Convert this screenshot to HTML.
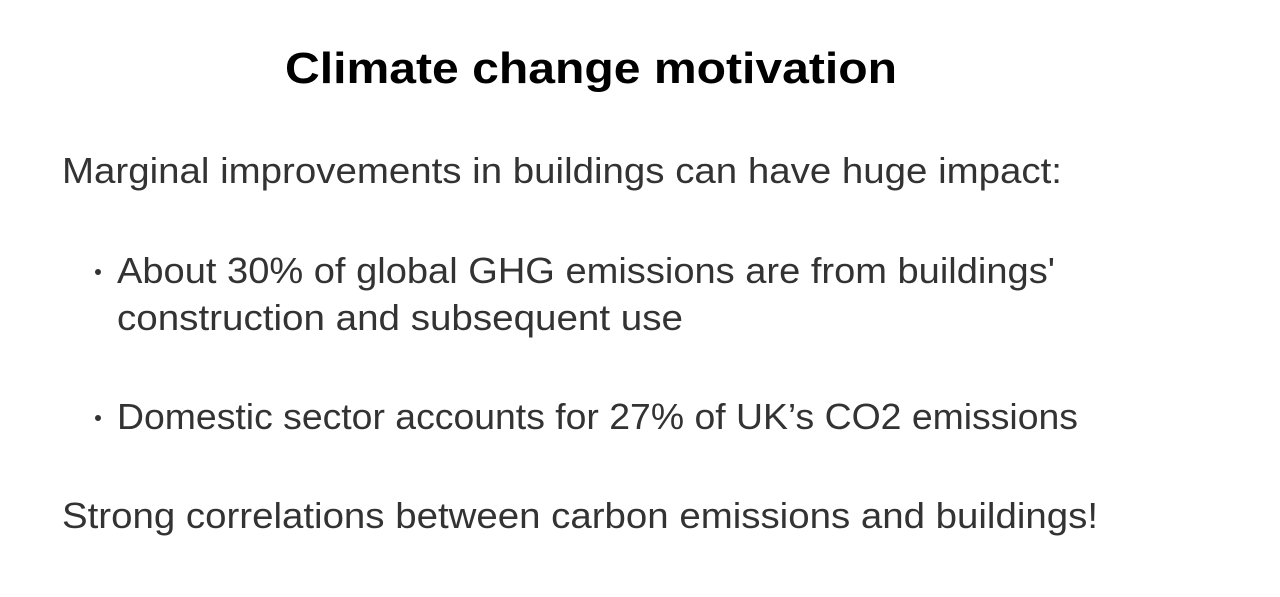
<!DOCTYPE html>
<html>
<head>
<meta charset="utf-8">
<style>
  html, body { margin: 0; padding: 0; background: #ffffff; }
  svg { display: block; }
</style>
</head>
<body>
<svg width="1280" height="597" viewBox="0 0 1280 597" xmlns="http://www.w3.org/2000/svg">
  <rect x="0" y="0" width="1280" height="597" fill="#ffffff"/>
  <text x="285" y="83" font-family="Liberation Sans, sans-serif" font-weight="bold" font-size="44" fill="#000000" textLength="612" lengthAdjust="spacingAndGlyphs">Climate change motivation</text>
  <g font-family="Liberation Sans, sans-serif" font-size="36" fill="#333333">
    <text x="62" y="183" textLength="1000" lengthAdjust="spacingAndGlyphs">Marginal improvements in buildings can have huge impact:</text>
    <circle cx="98" cy="272" r="3" fill="#333333"/>
    <text x="117" y="283" textLength="938" lengthAdjust="spacingAndGlyphs">About 30% of global GHG emissions are from buildings'</text>
    <text x="117" y="330" textLength="566" lengthAdjust="spacingAndGlyphs">construction and subsequent use</text>
    <circle cx="98" cy="418" r="3" fill="#333333"/>
    <text x="117" y="429" textLength="961" lengthAdjust="spacingAndGlyphs">Domestic sector accounts for 27% of UK’s CO2 emissions</text>
    <text x="62" y="528" textLength="1036" lengthAdjust="spacingAndGlyphs">Strong correlations between carbon emissions and buildings!</text>
  </g>
</svg>
</body>
</html>
